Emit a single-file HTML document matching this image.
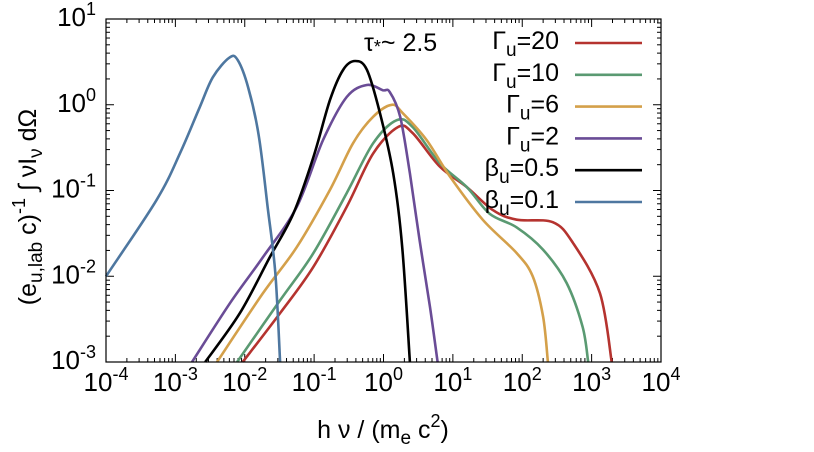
<!DOCTYPE html>
<html><head><meta charset="utf-8"><style>
body{margin:0;background:#fff;}
svg{font-family:"Liberation Sans",sans-serif;}
svg text{font-size:25px;}
svg text.tick{font-size:26px;}
svg tspan.s{font-size:18px;}
svg tspan.b{font-size:19px;}
</style></head><body>
<svg id="c" width="814" height="447"></svg>
<script>
const xTicks=[-4,-3,-2,-1,0,1,2,3,4];
const yTicks=[-3,-2,-1,0,1];
const labels=["Γ","Γ","Γ","Γ","β","β"];
const labelVals=["20","10","6","2","0.5","0.1"];
const colors=["#b5332f","#5a9a72","#d4a04a","#6a4c96","#000000","#4e77a0"];
// log10(hν), log10(y)
const g20x=[-2.03,-1.49,-1.01,-0.53,-0.15,0.21,0.42,0.81,1.2,1.58,1.92,2.44,2.73,3.12,3.29];
const g20y=[-3,-2.43,-1.89,-1.19,-0.57,-0.26,-0.33,-0.72,-0.96,-1.23,-1.34,-1.37,-1.61,-2.2,-3];
const g10x=[-2.11,-1.49,-1.01,-0.53,-0.15,0.19,0.42,0.81,1.2,1.53,1.92,2.3,2.64,2.87,2.95];
const g10y=[-3,-2.28,-1.73,-1.03,-0.45,-0.18,-0.26,-0.68,-0.96,-1.27,-1.43,-1.69,-2.08,-2.59,-3];
const g6x=[-2.4,-1.74,-1.25,-0.77,-0.44,-0.15,0.12,0.28,0.62,0.96,1.43,1.92,2.15,2.3,2.37];
const g6y=[-3,-2.2,-1.66,-0.99,-0.45,-0.14,0.0,-0.1,-0.41,-0.84,-1.34,-1.73,-2.0,-2.47,-3];
const g2x=[-2.76,-2.21,-1.74,-1.25,-0.87,-0.53,-0.24,-0.01,0.09,0.24,0.38,0.52,0.67,0.78];
const g2y=[-3,-2.31,-1.78,-1.19,-0.41,0.09,0.23,0.17,0.15,-0.14,-0.8,-1.58,-2.36,-3];
const b5x=[-2.57,-2.07,-1.64,-1.3,-1.01,-0.77,-0.58,-0.41,-0.24,-0.05,0.14,0.27,0.38];
const b5y=[-3,-2.43,-1.78,-1.27,-0.61,0.06,0.41,0.51,0.41,-0.1,-0.8,-1.66,-3];
const b1x=[-4,-3.27,-2.93,-2.65,-2.46,-2.22,-2.1,-1.95,-1.8,-1.67,-1.56,-1.49];
const b1y=[-2.0,-1.11,-0.56,-0.03,0.32,0.55,0.52,0.2,-0.35,-1.19,-1.96,-3];
const seriesX=[g20x,g10x,g6x,g2x,b5x,b1x];
const seriesY=[g20y,g10y,g6y,g2y,b5y,b1y];
const names=["gamma-20","gamma-10","gamma-6","gamma-2","beta-0.5","beta-0.1"];

const L=106,R=661,T=19,B=362;
const X=v=>L+(v-(-4))/8*(R-L);
const Y=v=>B-(v-(-3))/4*(B-T);
const svg=document.getElementById('c');
const NS="http://www.w3.org/2000/svg";
function mk(t,a,p){const e=document.createElementNS(NS,t);for(const k in a)e.setAttribute(k,a[k]);(p||svg).appendChild(e);return e;}
function smooth(pts){
 let d='M'+pts[0][0].toFixed(1)+','+pts[0][1].toFixed(1);
 for(let i=0;i<pts.length-1;i++){
  const p0=pts[Math.max(0,i-1)],p1=pts[i],p2=pts[i+1],p3=pts[Math.min(pts.length-1,i+2)];
  const c1=[p1[0]+(p2[0]-p0[0])/6,p1[1]+(p2[1]-p0[1])/6];
  const c2=[p2[0]-(p3[0]-p1[0])/6,p2[1]-(p3[1]-p1[1])/6];
  d+=' C'+c1[0].toFixed(1)+','+c1[1].toFixed(1)+' '+c2[0].toFixed(1)+','+c2[1].toFixed(1)+' '+p2[0].toFixed(1)+','+p2[1].toFixed(1);
 }
 return d;
}

for(let d=-4;d<4;d++)for(let m=2;m<10;m++){const x=X(d+Math.log10(m));
 const t1=mk('line',{x1:x,y1:B,x2:x,y2:B-4,stroke:'#000'});
 const t2=mk('line',{x1:x,y1:T,x2:x,y2:T+4,stroke:'#000'});}
for(let d=-3;d<1;d++)for(let m=2;m<10;m++){const y=Y(d+Math.log10(m));
 const t1=mk('line',{x1:L,y1:y,x2:L+4,y2:y,stroke:'#000'});
 const t2=mk('line',{x1:R,y1:y,x2:R-4,y2:y,stroke:'#000'});}
xTicks.forEach(v=>{const x=X(v);
 const t=mk('line',{x1:x,y1:B,x2:x,y2:B-8,stroke:'#000'});
 mk('line',{x1:x,y1:T,x2:x,y2:T+8,stroke:'#000'});
 const tx=mk('text',{x:x,y:B+29,'text-anchor':'middle','class':'tick'});
 tx.innerHTML='10<tspan class="s" dy="-11">'+v+'</tspan>';});
yTicks.forEach(v=>{const y=Y(v);
 const t=mk('line',{x1:L,y1:y,x2:L+8,y2:y,stroke:'#000'});
 mk('line',{x1:R,y1:y,x2:R-8,y2:y,stroke:'#000'});
 const tx=mk('text',{x:L-10,y:y+7,'text-anchor':'end','class':'tick'});
 tx.innerHTML='10<tspan class="s" dy="-11">'+v+'</tspan>';});

seriesX.forEach((xs,i)=>{const pts=xs.map((v,j)=>[X(v),Y(seriesY[i][j])]);
 const p=mk('path',{d:smooth(pts),fill:'none',stroke:colors[i],'stroke-width':'2.6','stroke-linejoin':'round'});
 });

const fr=mk('rect',{x:L,y:T,width:R-L,height:B-T,fill:'none',stroke:'#000','stroke-width':'1.2'});


labels.forEach((s,i)=>{const y=43+i*31.8;
 const tx=mk('text',{x:559,y:y+6,'text-anchor':'end'});
 
 tx.innerHTML=s+'<tspan class="b" dy="7">u</tspan><tspan dy="-7">='+labelVals[i]+'</tspan>';
 const ln=mk('line',{x1:575,y1:y,x2:642,y2:y,stroke:colors[i],'stroke-width':'2.6'});
 });

const tau=mk('text',{x:364,y:51});
tau.innerHTML='τ<tspan class="s" dy="2">*</tspan><tspan dy="-2">~ 2.5</tspan>';

const xl=mk('text',{x:383,y:438,'text-anchor':'middle'});
xl.innerHTML='h ν / (m<tspan class="b" dy="6">e</tspan><tspan dy="-6"> c</tspan><tspan class="s" dy="-11">2</tspan><tspan dy="11">)</tspan>';
const yl=mk('text',{x:0,y:0,'text-anchor':'middle',transform:'translate(36,207) rotate(-90)'});
yl.innerHTML='(e<tspan class="b" dy="6">u,lab</tspan><tspan dy="-6"> c)</tspan><tspan class="s" dy="-11">-1</tspan><tspan dy="11"> ∫ νI</tspan><tspan class="b" dy="6">ν</tspan><tspan dy="-6"> dΩ</tspan>';
</script>
</body></html>
